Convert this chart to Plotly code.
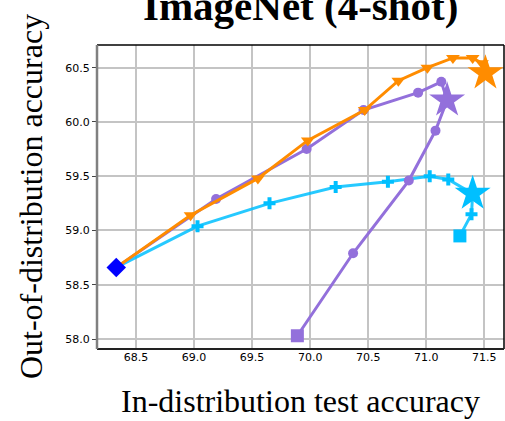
import plotly.graph_objects as go

# ---- data ----
zero_shot_x = [68.33]
zero_shot_y = [58.66]

orange_x = [68.97, 69.55, 69.98, 70.47, 70.76, 71.01, 71.23, 71.40, 71.48, 71.51]
orange_y = [59.14, 59.48, 59.83, 60.11, 60.38, 60.50, 60.59, 60.59, 60.54, 60.45]
orange_star = 9

purple_x = [69.19, 69.97, 70.46, 70.93, 71.13, 71.18, 71.08, 70.85, 70.37, 69.89]
purple_y = [59.29, 59.75, 60.11, 60.27, 60.37, 60.20, 59.92, 59.46, 58.79, 58.03]
purple_star = 5

cyan_x = [69.03, 69.65, 70.22, 70.67, 71.03, 71.19, 71.40, 71.39, 71.29]
cyan_y = [59.04, 59.25, 59.40, 59.45, 59.50, 59.47, 59.34, 59.15, 58.95]
cyan_star = 6

x_ticks = [68.5, 69.0, 69.5, 70.0, 70.5, 71.0, 71.5]
y_ticks = [58.0, 58.5, 59.0, 59.5, 60.0, 60.5]

title_text = "ImageNet (4-shot)"
x_label = "In-distribution test accuracy"
y_label = "Out-of-distribution accuracy"

fig = go.Figure()

def add_series(xs, ys, star_idx, color, line_color, mark_symbol, mark_size, end_square):
    X = zero_shot_x + xs
    Y = zero_shot_y + ys
    fig.add_trace(go.Scatter(x=X, y=Y, mode="lines",
                             line=dict(color=line_color, width=3), showlegend=False))
    n = len(xs)
    reg = [i for i in range(n) if i != star_idx and not (end_square and i == n - 1)]
    fig.add_trace(go.Scatter(x=[xs[i] for i in reg], y=[ys[i] for i in reg], mode="markers",
                             marker=dict(symbol=mark_symbol, size=mark_size, color=color,
                                         line=dict(width=0)), showlegend=False))
    if end_square:
        fig.add_trace(go.Scatter(x=[xs[-1]], y=[ys[-1]], mode="markers",
                                 marker=dict(symbol="square", size=13, color=color, line=dict(width=0)),
                                 showlegend=False))
    fig.add_trace(go.Scatter(x=[xs[star_idx]], y=[ys[star_idx]], mode="markers",
                             marker=dict(symbol="star", size=27, color=color, line=dict(width=0)),
                             showlegend=False))

add_series(cyan_x, cyan_y, cyan_star, "#00BFFF", "rgba(0,191,255,0.85)", "cross", 10, True)
add_series(purple_x, purple_y, purple_star, "#9370DB", "#9370DB", "circle", 10, True)
add_series(orange_x, orange_y, orange_star, "#FF8C00", "#FF8C00", "triangle-down", 12, False)

fig.add_trace(go.Scatter(x=zero_shot_x, y=zero_shot_y, mode="markers",
                         marker=dict(symbol="diamond", size=15, color="#0000FF", line=dict(width=0)),
                         showlegend=False))

tickfont = dict(family="DejaVu Sans", size=11, color="#000000")
fig.update_xaxes(range=[68.164, 71.67], tickvals=x_ticks, ticktext=[f"{v:.1f}" for v in x_ticks],
                 showgrid=True, gridcolor="#c4c4c4", gridwidth=1.5, zeroline=False,
                 ticks="", tickfont=tickfont, showline=False)
fig.update_yaxes(range=[57.908, 60.709], tickvals=y_ticks, ticktext=[f"{v:.1f}" for v in y_ticks],
                 showgrid=True, gridcolor="#c4c4c4", gridwidth=1.5, zeroline=False,
                 ticks="outside", ticklen=4, tickwidth=1, tickcolor="#444444",
                 tickfont=tickfont, showline=False)

shapes = [
    dict(type="line", xref="paper", yref="paper", x0=0, x1=1, y0=1, y1=1, line=dict(color="#000000", width=1.5)),
    dict(type="line", xref="paper", yref="paper", x0=1, x1=1, y0=0, y1=1, line=dict(color="#000000", width=1.5)),
    dict(type="line", xref="paper", yref="paper", x0=0, x1=1, y0=0, y1=0, line=dict(color="#222222", width=2)),
    dict(type="line", xref="paper", yref="paper", x0=0, x1=0, y0=0, y1=1, line=dict(color="#808080", width=2.5)),
]

annotations = [
    dict(text=f"<b>{title_text}</b>", xref="paper", yref="paper", x=0.5, y=1.1296,
         xanchor="center", yanchor="middle", showarrow=False,
         font=dict(family="Liberation Serif", size=41, color="#000000")),
    dict(text=x_label, xref="paper", yref="paper", x=0.5, y=-0.170,
         xanchor="center", yanchor="middle", showarrow=False,
         font=dict(family="Liberation Serif", size=32, color="#000000")),
    dict(text=y_label, xref="paper", yref="paper", x=-0.162, y=0.5, textangle=-90,
         xanchor="center", yanchor="middle", showarrow=False,
         font=dict(family="Liberation Serif", size=32, color="#000000")),
]

fig.update_layout(width=505, height=421, margin=dict(l=97, r=1, t=45, b=72),
                  plot_bgcolor="white", paper_bgcolor="white",
                  shapes=shapes, annotations=annotations)

fig.write_html("out.html")
